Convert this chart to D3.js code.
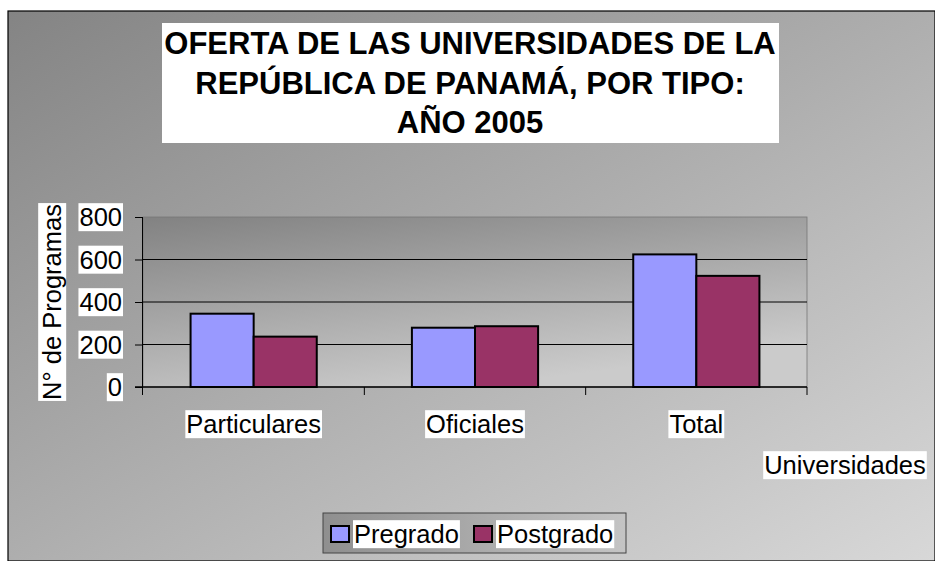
<!DOCTYPE html>
<html>
<head>
<meta charset="utf-8">
<script src="https://cdn.jsdelivr.net/npm/d3@7"></script>
<style>
  body { margin: 0; background: #fff; }
  svg text { font-family: "Liberation Sans", Arial, sans-serif; }
</style>
</head>
<body>
<div id="chart"></div>
<script>
// dades del gràfic
const categories = ["Particulares", "Oficiales", "Total"];
const series = ["Pregrado", "Postgrado"];
const pregrado = [345, 279, 624];
const postgrado = [237, 286, 523];
const yTicks = [0, 200, 400, 600, 800];
const colors = ["#9999ff", "#993366"];
const titleLines = ["OFERTA DE LAS UNIVERSIDADES DE LA", "REPÚBLICA DE PANAMÁ, POR TIPO:", "AÑO 2005"];

const data = categories.map((c, i) => ({cat: c, values: [pregrado[i], postgrado[i]]}));

const W = 935, H = 561;
const plot = {left: 143, top: 217, right: 807, bottom: 387};
const FS = "25.5px";

const svg = d3.select("#chart").append("svg")
    .attr("width", W)
    .attr("height", H);

const defs = svg.append("defs");
const bgGrad = defs.append("linearGradient").attr("id", "bg")
    .attr("x1", 0).attr("y1", 0).attr("x2", 1).attr("y2", 1);
bgGrad.append("stop").attr("offset", "0%").attr("stop-color", "#848484");
bgGrad.append("stop").attr("offset", "100%").attr("stop-color", "#d8d8d8");

const plotGrad = defs.append("linearGradient").attr("id", "plotbg")
    .attr("x1", 0).attr("y1", 0).attr("x2", 0.5).attr("y2", 1);
plotGrad.append("stop").attr("offset", "0%").attr("stop-color", "#828282");
plotGrad.append("stop").attr("offset", "100%").attr("stop-color", "#cbcbcb");

// fons del gràfic
svg.append("rect")
    .attr("x", 8).attr("y", 11)
    .attr("width", W - 8).attr("height", H - 11)
    .attr("fill", "url(#bg)")
    .attr("stroke", "#000").attr("stroke-width", 1.2);

// àrea del gràfic
svg.append("rect")
    .attr("x", plot.left).attr("y", plot.top)
    .attr("width", plot.right - plot.left).attr("height", plot.bottom - plot.top)
    .attr("fill", "url(#plotbg)")
    .attr("stroke", "#777").attr("stroke-width", 0.8);

// títol
svg.append("rect")
    .attr("x", 162).attr("y", 23)
    .attr("width", 617).attr("height", 120)
    .attr("fill", "#fff");
svg.selectAll(".titol")
    .data(titleLines)
    .enter()
    .append("text")
        .attr("class", "titol")
        .attr("x", 470)
        .attr("y", (d, i) => 54 + i * 39.5)
        .attr("text-anchor", "middle")
        .style("font-size", "31px")
        .style("font-weight", "bold")
        .text(d => d);

// escales
const x0 = d3.scaleBand()
    .domain(categories)
    .range([plot.left, plot.right]);

const x1 = d3.scaleBand()
    .domain(series)
    .range([0, x0.bandwidth()])
    .paddingInner(0)
    .paddingOuter(0.754);

const y = d3.scaleLinear()
    .domain([0, 800])
    .range([plot.bottom, plot.top]);

// línies de graella
svg.selectAll(".grid")
    .data(yTicks.slice(1, 4))
    .enter()
    .append("line")
        .attr("class", "grid")
        .attr("x1", plot.left).attr("x2", plot.right)
        .attr("y1", d => y(d)).attr("y2", d => y(d))
        .attr("stroke", "#000").attr("stroke-width", 1);

// eix Y
const yAxis = svg.append("g")
    .attr("transform", `translate(${plot.left},0)`)
    .call(d3.axisLeft(y).tickValues(yTicks).tickSize(8).tickPadding(0).tickFormat(d3.format("d")));
yAxis.select(".domain").attr("stroke", "#000").attr("d", `M-0.5,${plot.top}V${plot.bottom + 8}`);
yAxis.selectAll(".tick line").attr("stroke", "#000");
yAxis.selectAll(".tick text").remove();

// caixa blanca darrere d'un text
function textBox(sel) {
    sel.each(function() {
        const g = d3.select(this);
        const bb = g.select("text").node().getBBox();
        g.insert("rect", "text")
            .attr("x", bb.x - 1).attr("y", bb.y)
            .attr("width", bb.width + 2).attr("height", bb.height)
            .attr("fill", "#fff");
    });
}

// etiquetes eix Y amb fons blanc
const yLab = svg.selectAll(".ylab")
    .data(yTicks)
    .enter()
    .append("g")
        .attr("class", "ylab")
        .attr("transform", d => `translate(122,${y(d)})`);
yLab.append("text")
    .attr("text-anchor", "end")
    .attr("dy", "0.36em")
    .style("font-size", FS)
    .text(d => d);
textBox(yLab);

// eix X
const xAxis = svg.append("g")
    .attr("transform", `translate(0,${plot.bottom})`);
xAxis.append("line")
    .attr("x1", plot.left - 8).attr("x2", plot.right)
    .attr("y1", 0).attr("y2", 0)
    .attr("stroke", "#000").attr("stroke-width", 1.5);
xAxis.selectAll(".xtick")
    .data(categories.slice(1).map(c => x0(c)).concat([plot.right]))
    .enter()
    .append("line")
        .attr("x1", d => d).attr("x2", d => d)
        .attr("y1", 0).attr("y2", 8)
        .attr("stroke", "#000");

// barres
const groups = svg.selectAll(".grup")
    .data(data)
    .enter()
    .append("g")
        .attr("class", "grup")
        .attr("transform", d => `translate(${x0(d.cat)},0)`);
groups.selectAll("rect")
    .data(d => d.values.map((v, i) => ({s: series[i], v: v, i: i})))
    .enter()
    .append("rect")
        .attr("x", d => x1(d.s))
        .attr("y", d => y(d.v))
        .attr("width", x1.bandwidth())
        .attr("height", d => y(0) - y(d.v))
        .attr("fill", d => colors[d.i])
        .attr("stroke", "#000")
        .attr("stroke-width", 2);

// etiquetes de categoria
const catLab = svg.selectAll(".catlab")
    .data(categories)
    .enter()
    .append("g")
        .attr("class", "catlab")
        .attr("transform", d => `translate(${x0(d) + x0.bandwidth() / 2},424)`);
catLab.append("text")
    .attr("text-anchor", "middle")
    .attr("dy", "0.36em")
    .style("font-size", FS)
    .text(d => d);
textBox(catLab);

// títol eix X
const xTitle = svg.append("g").attr("transform", "translate(845,465)");
xTitle.append("text")
    .attr("text-anchor", "middle")
    .attr("dy", "0.36em")
    .style("font-size", FS)
    .text("Universidades");
textBox(xTitle);

// títol eix Y
const yTitle = svg.append("g").attr("transform", "translate(52,302) rotate(-90)");
yTitle.append("text")
    .attr("text-anchor", "middle")
    .attr("dy", "0.36em")
    .style("font-size", FS)
    .text("N° de Programas");
textBox(yTitle);

// llegenda
const legGrad = defs.append("linearGradient").attr("id", "legbg")
    .attr("x1", 0).attr("y1", 0).attr("x2", 1).attr("y2", 0);
legGrad.append("stop").attr("offset", "0%").attr("stop-color", "#8f8f8f");
legGrad.append("stop").attr("offset", "100%").attr("stop-color", "#c4c4c4");

svg.append("rect")
    .attr("x", 323).attr("y", 513)
    .attr("width", 303).attr("height", 40)
    .attr("fill", "url(#legbg)")
    .attr("stroke", "#444").attr("stroke-width", 1);

const legX = [331, 474];
const leg = svg.selectAll(".leg")
    .data(series)
    .enter()
    .append("g")
        .attr("class", "leg")
        .attr("transform", (d, i) => `translate(${legX[i]},534)`);
leg.append("rect")
    .attr("x", 0).attr("y", -8)
    .attr("width", 18).attr("height", 16)
    .attr("fill", (d, i) => colors[i])
    .attr("stroke", "#000").attr("stroke-width", 2);
const legText = leg.append("g");
legText.append("text")
    .attr("x", 23)
    .attr("dy", "0.36em")
    .style("font-size", FS)
    .text(d => d);
textBox(legText);
</script>
</body>
</html>
